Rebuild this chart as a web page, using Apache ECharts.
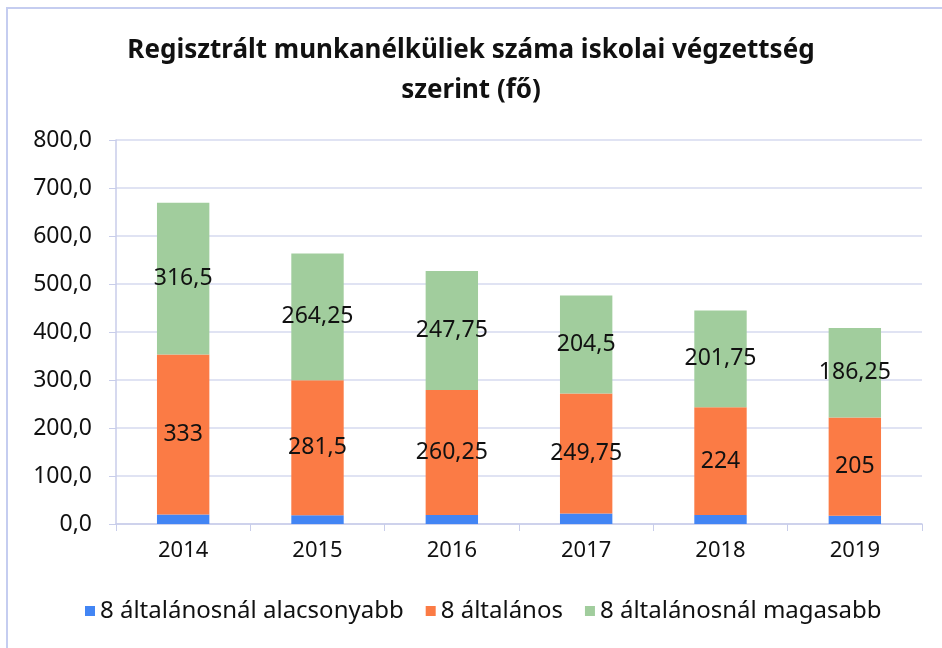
<!DOCTYPE html>
<html>
<head>
<meta charset="utf-8">
<script src="https://cdn.jsdelivr.net/npm/echarts@6/dist/echarts.min.js"></script>
<style>
  html, body { margin: 0; padding: 0; background: #fff; }
  #chart { width: 942px; height: 648px; }
</style>
</head>
<body>
<div id="chart"></div>
<script>
  // adatok
  var years = ['2014', '2015', '2016', '2017', '2018', '2019']
  var alacsonyabb = [20, 18, 19, 22, 19, 17]
  var altalanos = [333, 281.5, 260.25, 249.75, 224, 205]
  var magasabb = [316.5, 264.25, 247.75, 204.5, 201.75, 186.25]
  var seriesNames = ['8 általánosnál alacsonyabb', '8 általános', '8 általánosnál magasabb']

  var font = 'Noto Sans'
  var hu = function (v) { return String(v).replace('.', ',') }

  var myChart = echarts.init(document.getElementById('chart'))
  var labelStyle = {
    show: true,
    position: 'inside',
    color: '#111',
    fontFamily: font,
    fontSize: 23,
    formatter: function (p) { return hu(p.value) }
  }
  var option = {
    animation: false,
    color: ['#4285f4', '#fb7b45', '#a1cd9d'],
    title: {
      text: 'Regisztrált munkanélküliek száma iskolai végzettség\nszerint (fő)',
      left: 'center',
      top: 26,
      textStyle: {
        fontFamily: font,
        fontWeight: 'bold',
        fontSize: 26,
        lineHeight: 40,
        color: '#111'
      }
    },
    graphic: [{
      type: 'rect',
      shape: { x: 7, y: 8, width: 960, height: 700 },
      style: { fill: 'none', stroke: '#c5cdf0', lineWidth: 2 },
      silent: true
    }],
    legend: {
      bottom: 20,
      left: 80,
      itemWidth: 10,
      itemHeight: 10,
      itemGap: 22,
      itemStyle: { borderWidth: 0 },
      icon: 'rect',
      textStyle: { fontFamily: font, fontSize: 24, color: '#111' },
      data: seriesNames
    },
    grid: {
      left: 116,
      right: 20,
      top: 140,
      bottom: 124
    },
    xAxis: {
      type: 'category',
      data: years,
      axisLine: { lineStyle: { color: '#c8cdea', width: 1.5 } },
      axisTick: { show: true, length: 7, lineStyle: { color: '#c8cdea' } },
      axisLabel: { fontFamily: font, fontSize: 22, color: '#111', margin: 16 }
    },
    yAxis: {
      type: 'value',
      min: 0,
      max: 800,
      interval: 100,
      axisLine: { show: true, lineStyle: { color: '#c8cdea', width: 1.5 } },
      axisTick: { show: true, length: 7, lineStyle: { color: '#c8cdea' } },
      splitLine: { lineStyle: { color: '#d6daef', width: 1.5 } },
      axisLabel: {
        fontFamily: font,
        fontSize: 23,
        color: '#111',
        margin: 24,
        formatter: function (v) { return v.toFixed(1).replace('.', ',') }
      }
    },
    series: [
      {
        name: seriesNames[0],
        type: 'bar',
        stack: 'total',
        barWidth: '39%',
        data: alacsonyabb
      },
      {
        name: seriesNames[1],
        type: 'bar',
        stack: 'total',
        label: labelStyle,
        data: altalanos
      },
      {
        name: seriesNames[2],
        type: 'bar',
        stack: 'total',
        label: labelStyle,
        data: magasabb
      }
    ]
  }
  myChart.setOption(option)
</script>
</body>
</html>
